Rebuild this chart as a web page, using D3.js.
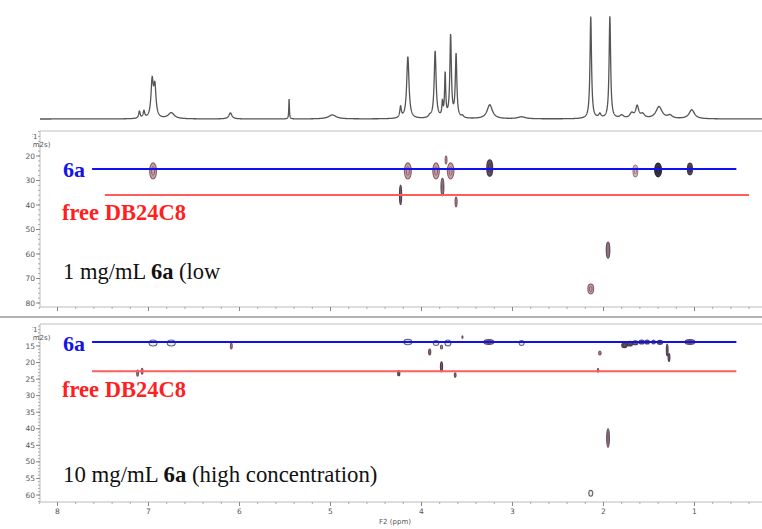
<!DOCTYPE html>
<html><head><meta charset="utf-8">
<script src="https://cdn.jsdelivr.net/npm/d3@7"></script>
<style>body{margin:0;background:#fff}svg{display:block}</style>
</head><body>
<svg id="c" width="762" height="529"></svg>
<script>
// ---- 1D proton spectrum peaks (ppm, intensity, FWHM in ppm) ----
const peakPpm  = [7.10,7.05,6.96,6.93,6.75,6.10,5.455,4.98,4.23,4.15,3.91,3.85,3.77,3.74,3.68,3.62,3.55,3.25,2.90,2.14,2.04,1.93,1.80,1.69,1.63,1.57,1.39,1.27,1.03];
const peakInt  = [7,7,36,30,6,6,20,4,11,62,2,67,14,43,82,63,2,14,2,102,4,102,3,5,12,4,12,3,9];
const peakFwhm = [0.02,0.02,0.03,0.03,0.08,0.04,0.008,0.1,0.02,0.03,0.03,0.025,0.015,0.015,0.02,0.02,0.03,0.07,0.1,0.02,0.03,0.02,0.05,0.05,0.04,0.05,0.08,0.06,0.07];

// ---- DOSY cross peaks, panel 1 (1 mg/mL): ppm, D, half-width ppm, half-height D, intensity ----
const p1Ppm = [6.95,4.15,3.84,3.68,3.25,1.65,1.40,1.05,1.95,2.14,4.23,3.77,3.62,3.73];
const p1D   = [26.1,26.1,26.1,26.1,24.9,26.1,25.7,25.3,58.4,74.3,35.9,32.7,38.8,21.6];
const p1Dp  = [0.038,0.038,0.036,0.036,0.033,0.026,0.038,0.028,0.02,0.032,0.012,0.016,0.011,0.01];
const p1DD  = [3.3,3.3,3.3,3.3,3.4,2.4,2.8,2.4,3.3,2.0,4.0,3.6,2.0,1.6];
const p1I   = [0.45,0.45,0.45,0.45,0.85,0.2,1.0,0.9,0.7,0.45,0.8,0.7,0.6,0.5];

// ---- DOSY cross peaks, panel 2 (10 mg/mL) ----
const p2Ppm = [6.95,6.75,6.09,7.12,7.07,4.15,3.91,3.84,3.71,3.78,3.55,3.26,2.90,4.25,3.78,3.63,2.04,2.06,1.77,1.71,1.65,1.58,1.52,1.45,1.38,1.30,1.28,1.05,1.95,2.14];
const p2D   = [14.1,14.1,15.0,23.2,22.6,13.8,16.8,14.1,14.1,15.3,12.3,13.8,14.1,23.2,21.3,23.8,17.1,22.3,14.8,14.3,14.0,13.8,13.8,13.8,13.9,16.2,18.5,13.8,42.8,59.5];
const p2Dp  = [0.044,0.044,0.01,0.01,0.01,0.044,0.012,0.03,0.033,0.012,0.006,0.055,0.027,0.012,0.012,0.01,0.014,0.008,0.03,0.03,0.03,0.03,0.025,0.02,0.03,0.01,0.01,0.055,0.015,0.022];
const p2DD  = [0.9,0.9,0.9,0.9,0.9,0.8,0.9,0.75,0.9,0.6,0.4,0.75,0.75,0.8,1.5,0.7,0.6,0.6,0.7,0.7,0.6,0.6,0.6,0.6,0.6,1.8,1.2,0.75,2.8,0.9];
const p2I   = [0.3,0.3,0.6,0.6,0.6,0.3,0.7,0.3,0.3,0.6,0.6,0.7,0.2,0.8,0.8,0.7,0.6,0.6,0.8,0.8,0.8,0.8,0.8,0.7,0.8,0.8,0.8,0.7,0.7,0.3];

// reference lines (D value, ppm start, ppm end)
const p1LineD = [25.3, 35.9], p1LineFrom = [7.62, 7.48], p1LineTo = [0.54, 0.40];
const p2LineD = [13.8, 22.6], p2LineFrom = [7.62, 7.62], p2LineTo = [0.54, 0.54];

const xTicks = [8,7,6,5,4,3,2,1];
const p1YTicks = [20,30,40,50,60,70,80];
const p2YTicks = [15,20,25,30,35,40,45,50,55,60];

const svg = d3.select("#c");
const W = 762;
const x = d3.scaleLinear().domain([8,1]).range([57.5,694.5]);
const ppmLeft = x.invert(40), ppmRight = x.invert(762);

// ---------- 1D spectrum ----------
const yS = d3.scaleLinear().domain([0,102]).range([119,17]);
const pts = d3.range(ppmLeft, ppmRight, -0.0015).map(p => {
  let s = 0;
  for (let i=0;i<peakPpm.length;i++){ const g = peakFwhm[i]/2, d=(p-peakPpm[i])/g; s += peakInt[i]/(1+d*d); }
  return [p, s];
});
svg.append("path").datum(pts)
  .attr("d", d3.line().x(d=>x(d[0])).y(d=>yS(d[1])))
  .attr("fill","none").attr("stroke","#555").attr("stroke-width",1.3);

// ---------- panels ----------
const serif = "'Liberation Serif','Times New Roman',serif";
const sans = "'DejaVu Sans','Liberation Sans',sans-serif";

function panel(cfg){
  const g = svg.append("g");
  const y = d3.scaleLinear().domain(cfg.yDom).range(cfg.yRange);
  // frame
  g.append("line").attr("x1",40).attr("x2",W).attr("y1",cfg.top).attr("y2",cfg.top).attr("stroke","#d4d4d4").attr("stroke-width",1.5);
  g.append("line").attr("x1",40).attr("x2",40).attr("y1",cfg.top).attr("y2",cfg.bottom).attr("stroke","#bbb");
  g.append("line").attr("x1",40).attr("x2",W).attr("y1",cfg.bottom).attr("y2",cfg.bottom).attr("stroke","#bbb");
  // x ticks
  const minor = d3.range(8.2, 0.2, -0.2);
  g.selectAll(".xm").data(minor).join("line")
    .attr("x1",d=>x(d)).attr("x2",d=>x(d)).attr("y1",cfg.bottom).attr("y2",cfg.bottom+2).attr("stroke","#aaa");
  g.selectAll(".xM").data(xTicks).join("line")
    .attr("x1",d=>x(d)).attr("x2",d=>x(d)).attr("y1",cfg.bottom).attr("y2",cfg.bottom+4).attr("stroke","#888");
  if (cfg.xLabels){
    g.selectAll(".xl").data(xTicks).join("text")
      .attr("x",d=>x(d)).attr("y",cfg.bottom+12).attr("text-anchor","middle")
      .attr("font-family",sans).attr("font-size",7.5).attr("fill","#555").text(d=>d);
    g.append("text").attr("x",395).attr("y",cfg.bottom+22).attr("text-anchor","middle")
      .attr("font-family",sans).attr("font-size",7).attr("fill","#555").text("F2 (ppm)");
  }
  // y ticks
  const yMinor = d3.range(Math.ceil(y.invert(cfg.top)/cfg.minorStep)*cfg.minorStep, y.invert(cfg.bottom), cfg.minorStep);
  g.selectAll(".ym").data(yMinor).join("line")
    .attr("x1",38).attr("x2",40).attr("y1",d=>y(d)).attr("y2",d=>y(d)).attr("stroke","#aaa");
  g.selectAll(".yM").data(cfg.yTicks).join("line")
    .attr("x1",36).attr("x2",40).attr("y1",d=>y(d)).attr("y2",d=>y(d)).attr("stroke","#888");
  g.selectAll(".yl").data(cfg.yTicks).join("text")
    .attr("x",35).attr("y",d=>y(d)+2.5).attr("text-anchor","end")
    .attr("font-family",sans).attr("font-size",7.5).attr("fill","#555").text(d=>d);
  // axis title (cropped)
  const clipId = "clip"+cfg.top;
  svg.append("clipPath").attr("id",clipId).append("rect").attr("x",32).attr("y",cfg.top).attr("width",20).attr("height",20);
  const tg = g.append("g").attr("clip-path",`url(#${clipId})`);
  tg.append("text").attr("x",29).attr("y",cfg.top+8).attr("font-family",sans).attr("font-size",7).attr("fill","#555").text("F1");
  tg.append("text").attr("x",30).attr("y",cfg.top+16).attr("font-family",sans).attr("font-size",7).attr("fill","#555").text("(m2s)");

  // cross peaks (contour-like: outer ring, lighter body, darker core)
  const ring = d3.scaleLinear().domain([0,0.5,1]).range(["#a0868c","#7a4c58","#1e1a2e"]);
  const body = d3.scaleLinear().domain([0,0.5,1]).range(["#e0d4d8","#c49aa4","#3a3450"]);
  const pk = d3.range(cfg.ppm.length).map(i=>({p:cfg.ppm[i],D:cfg.D[i],dp:cfg.dp[i],dD:cfg.dD[i],I:cfg.I[i]}));
  pk.forEach(d=>{
    const cx=x(d.p), cy=y(d.D), rx=Math.abs(x(d.p+d.dp)-cx), ry=Math.abs(y(d.D+d.dD)-cy);
    const hollow = cfg.hollow && d.I<0.5;
    g.append("ellipse").attr("cx",cx).attr("cy",cy).attr("rx",rx).attr("ry",ry)
      .attr("fill", hollow ? "#eee" : body(d.I))
      .attr("stroke", hollow ? "#555" : ring(d.I)).attr("stroke-width",1.1).attr("stroke-opacity",0.9);
    if (rx>2.2 && ry>2.2 && !hollow){
      g.append("ellipse").attr("cx",cx).attr("cy",cy).attr("rx",rx*0.45).attr("ry",ry*0.55)
        .attr("fill","none").attr("stroke",ring(d.I)).attr("stroke-width",1).attr("stroke-opacity",0.8);
    }
  });
  // reference lines (drawn over peaks)
  const lineCols = ["#1010f0","#ff5c5c"];
  cfg.lineD.forEach((D,i)=>{
    g.append("line").attr("x1",x(cfg.lineFrom[i])).attr("x2",x(cfg.lineTo[i]))
      .attr("y1",y(D)).attr("y2",y(D)).attr("stroke",lineCols[i]).attr("stroke-width",2);
  });
  // labels
  g.append("text").attr("x",63).attr("y",cfg.lab[0]).attr("font-family",serif).attr("font-weight","bold")
    .attr("font-size",22).attr("fill","#1414e6").text("6a");
  g.append("text").attr("x",62).attr("y",cfg.lab[1]).attr("font-family",serif).attr("font-weight","bold")
    .attr("font-size",22.5).attr("fill","#ff1f1f").text("free DB24C8");
  const t = g.append("text").attr("x",63).attr("y",cfg.lab[2]).attr("font-family",serif)
    .attr("font-size",cfg.capSize).attr("fill","#111");
  t.append("tspan").text(cfg.cap[0]);
  t.append("tspan").attr("font-weight","bold").text("6a");
  t.append("tspan").text(cfg.cap[1]);
}

panel({top:131,bottom:307,yDom:[20,80],yRange:[156,303],yTicks:p1YTicks,minorStep:2,xLabels:false,
  ppm:p1Ppm,D:p1D,dp:p1Dp,dD:p1DD,I:p1I,hollow:false,
  lineD:p1LineD,lineFrom:p1LineFrom,lineTo:p1LineTo,
  lab:[177,220,279],cap:["1 mg/mL "," (low"],capSize:22.5});

// separator
svg.append("line").attr("x1",0).attr("x2",W).attr("y1",317).attr("y2",317).attr("stroke","#999").attr("stroke-width",1.5);

panel({top:324,bottom:502,yDom:[15,60],yRange:[346,495],yTicks:p2YTicks,minorStep:1,xLabels:true,
  ppm:p2Ppm,D:p2D,dp:p2Dp,dD:p2DD,I:p2I,hollow:true,
  lineD:p2LineD,lineFrom:p2LineFrom,lineTo:p2LineTo,
  lab:[351,397,482],cap:["10 mg/mL "," (high concentration)"],capSize:22.8});
</script>
</body></html>
